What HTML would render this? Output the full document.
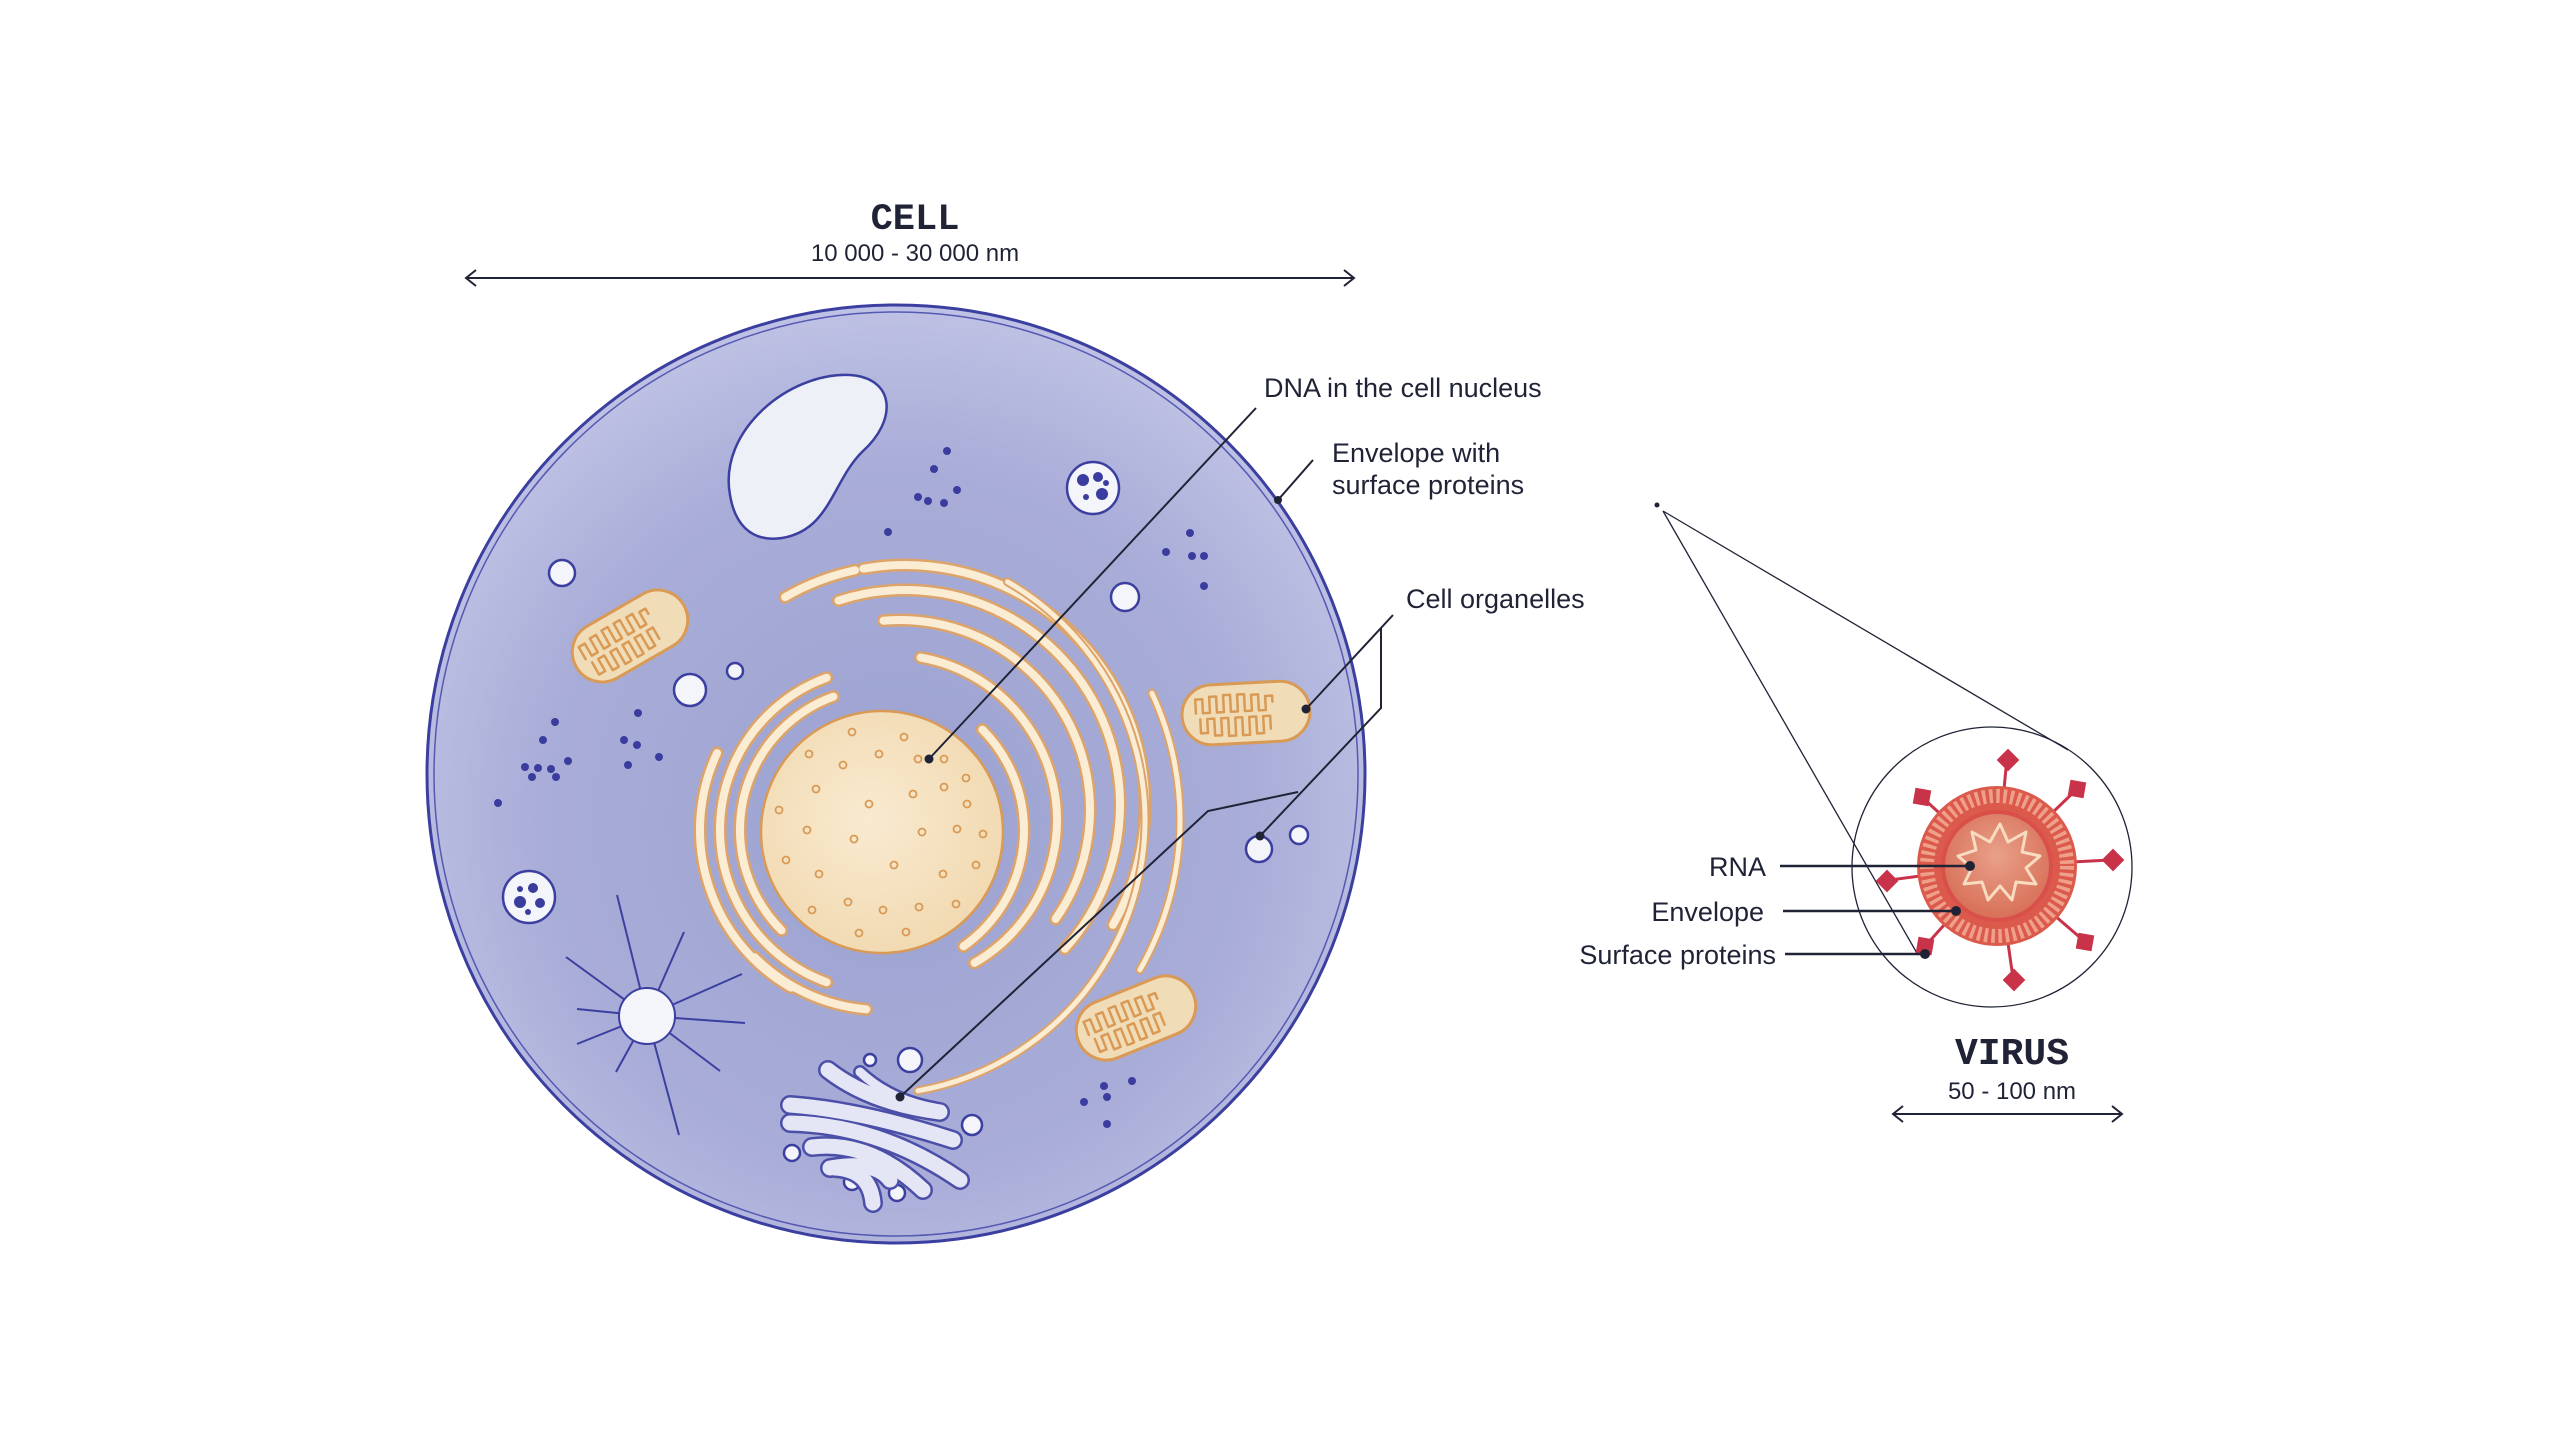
<!DOCTYPE html>
<html><head><meta charset="utf-8"><style>
html,body{margin:0;padding:0;background:#fff;}
svg{display:block;}
text{font-family:"Liberation Sans",sans-serif;fill:#1f2335;}
.mono{font-family:"Liberation Mono",monospace;font-weight:bold;}
</style></head><body>
<svg width="2560" height="1440" viewBox="0 0 2560 1440" xmlns="http://www.w3.org/2000/svg">
<defs>
<radialGradient id="cg" cx="0.5" cy="0.55" r="0.55">
<stop offset="0" stop-color="#9ba1d0"/><stop offset="0.7" stop-color="#a9add8"/><stop offset="1" stop-color="#bfc2e4"/>
</radialGradient>
<radialGradient id="ng" cx="0.45" cy="0.45" r="0.6">
<stop offset="0" stop-color="#f9ead0"/><stop offset="1" stop-color="#f1d9b0"/>
</radialGradient>
<radialGradient id="vg" cx="0.5" cy="0.4" r="0.6">
<stop offset="0" stop-color="#e9a08a"/><stop offset="1" stop-color="#d87058"/>
</radialGradient>
<g id="mz" fill="none" stroke="#d99a55" stroke-width="2.5" stroke-linejoin="round" stroke-linecap="round">
<path d="M-50,-2 v-14 h7 v14 h7 v-16 h7 v16 h7 v-17 h7 v17 h7 v-17 h7 v17 h7 v-16 h7 v16 h7 v-14 h7 v6"/>
<path d="M-46,4 v14 h7 v-14 h7 v17 h7 v-17 h7 v18 h7 v-18 h7 v18 h7 v-18 h7 v17 h7 v-17 h7 v13"/>
</g>
</defs>

<!-- CELL title -->
<text x="915" y="229" class="mono" font-size="37" text-anchor="middle">CELL</text>
<text x="915" y="261" font-size="24" text-anchor="middle">10 000 - 30 000 nm</text>
<g stroke="#1f2335" stroke-width="2" fill="none">
<line x1="466" y1="278" x2="1354" y2="278"/>
<polyline points="476,270 466,278 476,286"/>
<polyline points="1344,270 1354,278 1344,286"/>
</g>

<!-- Cell body -->
<circle cx="896" cy="774" r="469" fill="url(#cg)" stroke="#3b3fa0" stroke-width="3"/>
<circle cx="896" cy="774" r="462" fill="none" stroke="#5559b2" stroke-width="1.5"/>

<!-- vacuole -->
<path d="M730,495 C718,430 790,372 850,375 C895,378 898,420 862,452 C832,482 830,530 782,538 C748,543 734,520 730,495 Z" fill="#eef0f8" stroke="#3b3fa0" stroke-width="2.5"/>

<!-- small vesicles -->
<g fill="#f4f5fb" stroke="#3b3fa0" stroke-width="2.5">
<circle cx="562" cy="573" r="13"/><circle cx="690" cy="690" r="16"/><circle cx="735" cy="671" r="8"/>
<circle cx="1125" cy="597" r="14"/><circle cx="1259" cy="849" r="13"/><circle cx="1299" cy="835" r="9"/>
<circle cx="910" cy="1060" r="12"/><circle cx="870" cy="1060" r="6"/><circle cx="972" cy="1125" r="10"/>
<circle cx="792" cy="1153" r="8"/><circle cx="852" cy="1182" r="8"/><circle cx="897" cy="1193" r="8"/>
</g>

<!-- lysosomes -->
<g>
<circle cx="1093" cy="488" r="26" fill="#f4f5fb" stroke="#3b3fa0" stroke-width="2.5"/>
<g fill="#3a3d9e"><circle cx="1083" cy="480" r="6"/><circle cx="1098" cy="477" r="5"/><circle cx="1102" cy="494" r="6"/><circle cx="1086" cy="497" r="3"/><circle cx="1106" cy="483" r="3"/></g>
<circle cx="529" cy="897" r="26" fill="#f4f5fb" stroke="#3b3fa0" stroke-width="2.5"/>
<g fill="#3a3d9e"><circle cx="520" cy="902" r="6"/><circle cx="533" cy="888" r="5"/><circle cx="540" cy="903" r="5"/><circle cx="528" cy="912" r="3"/><circle cx="520" cy="889" r="3"/></g>
</g>

<!-- dots -->
<g fill="#3a3d9e">
<circle cx="947" cy="451" r="4"/><circle cx="934" cy="469" r="4"/><circle cx="918" cy="497" r="4"/><circle cx="928" cy="501" r="4"/><circle cx="944" cy="503" r="4"/><circle cx="957" cy="490" r="4"/><circle cx="888" cy="532" r="4"/>
<circle cx="1190" cy="533" r="4"/><circle cx="1166" cy="552" r="4"/><circle cx="1192" cy="556" r="4"/><circle cx="1204" cy="556" r="4"/><circle cx="1204" cy="586" r="4"/>
<circle cx="555" cy="722" r="4"/><circle cx="543" cy="740" r="4"/><circle cx="525" cy="767" r="4"/><circle cx="538" cy="768" r="4"/><circle cx="532" cy="777" r="4"/><circle cx="551" cy="769" r="4"/><circle cx="556" cy="777" r="4"/><circle cx="568" cy="761" r="4"/>
<circle cx="638" cy="713" r="4"/><circle cx="624" cy="740" r="4"/><circle cx="637" cy="745" r="4"/><circle cx="628" cy="765" r="4"/><circle cx="659" cy="757" r="4"/>
<circle cx="498" cy="803" r="4"/>
<circle cx="1132" cy="1081" r="4"/><circle cx="1104" cy="1086" r="4"/><circle cx="1107" cy="1097" r="4"/><circle cx="1084" cy="1102" r="4"/><circle cx="1107" cy="1124" r="4"/>
</g>

<!-- centrosome -->
<g stroke="#3b3fa0" stroke-width="2">
<line x1="647" y1="1016" x2="617" y2="895"/><line x1="647" y1="1016" x2="684" y2="932"/><line x1="647" y1="1016" x2="742" y2="974"/><line x1="647" y1="1016" x2="745" y2="1023"/><line x1="647" y1="1016" x2="720" y2="1071"/><line x1="647" y1="1016" x2="679" y2="1135"/><line x1="647" y1="1016" x2="616" y2="1072"/><line x1="647" y1="1016" x2="577" y2="1044"/><line x1="647" y1="1016" x2="577" y2="1009"/><line x1="647" y1="1016" x2="566" y2="957"/>
</g>
<circle cx="647" cy="1016" r="28" fill="#f4f5fb" stroke="#3b3fa0" stroke-width="2"/>

<!-- mitochondria -->
<g transform="translate(630,636) rotate(-30)">
<rect x="-62" y="-30" width="124" height="60" rx="30" fill="#f1dcb8" stroke="#d99a55" stroke-width="3"/>
<use href="#mz"/>
</g>
<g transform="translate(1246,713) rotate(-3)">
<rect x="-64" y="-30" width="128" height="60" rx="30" fill="#f1dcb8" stroke="#d99a55" stroke-width="3"/>
<use href="#mz"/>
</g>
<g transform="translate(1136,1018) rotate(-22)">
<rect x="-62" y="-30" width="124" height="60" rx="30" fill="#f1dcb8" stroke="#d99a55" stroke-width="3"/>
<use href="#mz"/>
</g>

<!-- ER arcs -->
<g fill="none" stroke-linecap="round">
<g stroke="#dca46a" stroke-width="13">
<circle cx="882" cy="830" r="142" pathLength="360" stroke-dasharray="115 1000" transform="rotate(135 882 830)"/>
<circle cx="882" cy="830" r="162" pathLength="360" stroke-dasharray="140 1000" transform="rotate(110 882 830)"/>
<circle cx="882" cy="830" r="182" pathLength="360" stroke-dasharray="85 1000" transform="rotate(120 882 830)"/>
<circle cx="882" cy="830" r="180" pathLength="360" stroke-dasharray="40 1000" transform="rotate(95 882 830)"/>
<circle cx="882" cy="830" r="142" pathLength="360" stroke-dasharray="100 1000" transform="rotate(-45 882 830)"/>
<circle cx="892" cy="820" r="165" pathLength="360" stroke-dasharray="140 1000" transform="rotate(-80 892 820)"/>
<circle cx="900" cy="810" r="190" pathLength="360" stroke-dasharray="130 1000" transform="rotate(-95 900 810)"/>
<circle cx="905" cy="805" r="215" pathLength="360" stroke-dasharray="150 1000" transform="rotate(-108 905 805)"/>
<circle cx="905" cy="805" r="240" pathLength="360" stroke-dasharray="130 1000" transform="rotate(-100 905 805)"/>
<circle cx="905" cy="805" r="240" pathLength="360" stroke-dasharray="18 1000" transform="rotate(-120 905 805)"/>
</g>
<g stroke="#fbecd4" stroke-width="8">
<circle cx="882" cy="830" r="142" pathLength="360" stroke-dasharray="115 1000" transform="rotate(135 882 830)"/>
<circle cx="882" cy="830" r="162" pathLength="360" stroke-dasharray="140 1000" transform="rotate(110 882 830)"/>
<circle cx="882" cy="830" r="182" pathLength="360" stroke-dasharray="85 1000" transform="rotate(120 882 830)"/>
<circle cx="882" cy="830" r="180" pathLength="360" stroke-dasharray="40 1000" transform="rotate(95 882 830)"/>
<circle cx="882" cy="830" r="142" pathLength="360" stroke-dasharray="100 1000" transform="rotate(-45 882 830)"/>
<circle cx="892" cy="820" r="165" pathLength="360" stroke-dasharray="140 1000" transform="rotate(-80 892 820)"/>
<circle cx="900" cy="810" r="190" pathLength="360" stroke-dasharray="130 1000" transform="rotate(-95 900 810)"/>
<circle cx="905" cy="805" r="215" pathLength="360" stroke-dasharray="150 1000" transform="rotate(-108 905 805)"/>
<circle cx="905" cy="805" r="240" pathLength="360" stroke-dasharray="130 1000" transform="rotate(-100 905 805)"/>
<circle cx="905" cy="805" r="240" pathLength="360" stroke-dasharray="18 1000" transform="rotate(-120 905 805)"/>
</g>
<g stroke="#dca46a" stroke-width="9">
<circle cx="870" cy="820" r="275" pathLength="360" stroke-dasharray="140 1000" transform="rotate(-60 870 820)"/>
<circle cx="880" cy="820" r="300" pathLength="360" stroke-dasharray="55 1000" transform="rotate(-25 880 820)"/>
</g>
<g stroke="#fbecd4" stroke-width="5">
<circle cx="870" cy="820" r="275" pathLength="360" stroke-dasharray="140 1000" transform="rotate(-60 870 820)"/>
<circle cx="880" cy="820" r="300" pathLength="360" stroke-dasharray="55 1000" transform="rotate(-25 880 820)"/>
</g>
</g>

<!-- nucleus -->
<circle cx="882" cy="832" r="121" fill="url(#ng)" stroke="#d99a55" stroke-width="2.5"/>
<g fill="none" stroke="#d99a55" stroke-width="1.8">
<circle cx="852" cy="732" r="3.5"/><circle cx="904" cy="737" r="3.5"/><circle cx="809" cy="754" r="3.5"/><circle cx="879" cy="754" r="3.5"/><circle cx="918" cy="759" r="3.5"/><circle cx="944" cy="759" r="3.5"/><circle cx="843" cy="765" r="3.5"/>
<circle cx="966" cy="778" r="3.5"/><circle cx="816" cy="789" r="3.5"/><circle cx="913" cy="794" r="3.5"/><circle cx="944" cy="787" r="3.5"/><circle cx="869" cy="804" r="3.5"/><circle cx="967" cy="804" r="3.5"/>
<circle cx="779" cy="810" r="3.5"/><circle cx="807" cy="830" r="3.5"/><circle cx="854" cy="839" r="3.5"/><circle cx="922" cy="832" r="3.5"/><circle cx="957" cy="829" r="3.5"/><circle cx="983" cy="834" r="3.5"/>
<circle cx="786" cy="860" r="3.5"/><circle cx="819" cy="874" r="3.5"/><circle cx="894" cy="865" r="3.5"/><circle cx="943" cy="874" r="3.5"/><circle cx="976" cy="865" r="3.5"/>
<circle cx="812" cy="910" r="3.5"/><circle cx="848" cy="902" r="3.5"/><circle cx="883" cy="910" r="3.5"/><circle cx="919" cy="907" r="3.5"/><circle cx="956" cy="904" r="3.5"/>
<circle cx="859" cy="933" r="3.5"/><circle cx="906" cy="932" r="3.5"/>
</g>

<!-- golgi -->
<g fill="none" stroke-linecap="round">
<g stroke="#4b4fa8" stroke-width="20">
<path d="M828,1070 Q870,1103 940,1112"/>
<path d="M860,1072 Q890,1100 935,1108" stroke-width="14"/>
<path d="M790,1105 Q860,1110 953,1140"/>
<path d="M790,1123 Q880,1125 960,1180"/>
<path d="M812,1147 Q870,1140 923,1190"/>
<path d="M830,1168 Q875,1160 890,1180"/>
<path d="M835,1168 Q870,1170 873,1203"/>
</g>
<g stroke="#e4e6f5" stroke-width="15">
<path d="M828,1070 Q870,1103 940,1112"/>
<path d="M860,1072 Q890,1100 935,1108" stroke-width="9"/>
<path d="M790,1105 Q860,1110 953,1140"/>
<path d="M790,1123 Q880,1125 960,1180"/>
<path d="M812,1147 Q870,1140 923,1190"/>
<path d="M830,1168 Q875,1160 890,1180"/>
<path d="M835,1168 Q870,1170 873,1203"/>
</g>
</g>

<!-- leader lines cell -->
<g stroke="#1f2335" stroke-width="2" fill="none">
<line x1="1256" y1="408" x2="929" y2="759"/>
<line x1="1313" y1="460" x2="1278" y2="500"/>
<polyline points="1393,615 1306,709"/>
<polyline points="1381,628 1381,708 1260,836"/>
<polyline points="1298,792 1208,811 900,1097"/>
</g>
<g fill="#1f2335">
<circle cx="929" cy="759" r="4.5"/><circle cx="1278" cy="500" r="4"/><circle cx="1306" cy="709" r="4.5"/><circle cx="1260" cy="836" r="4.5"/><circle cx="900" cy="1097" r="4.5"/>
</g>
<text x="1264" y="397" font-size="27">DNA in the cell nucleus</text>
<text x="1332" y="462" font-size="27">Envelope with</text>
<text x="1332" y="494" font-size="27">surface proteins</text>
<text x="1406" y="608" font-size="27">Cell organelles</text>

<!-- zoom cone -->
<circle cx="1657" cy="505" r="2.5" fill="#1f2335"/>
<g stroke="#1f2335" stroke-width="1.3" fill="none">
<line x1="1663" y1="511" x2="2068" y2="750"/>
<line x1="1663" y1="511" x2="1918" y2="955"/>
<circle cx="1992" cy="867" r="140"/>
</g>

<!-- virus -->
<g>
<g stroke="#c9334a" stroke-width="3">
<line x1="1997" y1="866" x2="2007" y2="757"/>
<line x1="1997" y1="866" x2="2077" y2="789"/>
<line x1="1997" y1="866" x2="2110" y2="860"/>
<line x1="1997" y1="866" x2="2083" y2="940"/>
<line x1="1997" y1="866" x2="2013" y2="978"/>
<line x1="1997" y1="866" x2="1927" y2="944"/>
<line x1="1997" y1="866" x2="1890" y2="880"/>
<line x1="1997" y1="866" x2="1924" y2="799"/>
</g>
<g fill="#c9334a">
<rect x="-8" y="-8" width="16" height="16" transform="translate(2008,760) rotate(45)"/>
<rect x="-8" y="-8" width="16" height="16" transform="translate(2077,789) rotate(10)"/>
<rect x="-8" y="-8" width="16" height="16" transform="translate(2113,860) rotate(45)"/>
<rect x="-8" y="-8" width="16" height="16" transform="translate(2085,942) rotate(10)"/>
<rect x="-8" y="-8" width="16" height="16" transform="translate(2014,980) rotate(45)"/>
<rect x="-8" y="-8" width="16" height="16" transform="translate(1925,946) rotate(10)"/>
<rect x="-8" y="-8" width="16" height="16" transform="translate(1887,881) rotate(45)"/>
<rect x="-8" y="-8" width="16" height="16" transform="translate(1922,797) rotate(10)"/>
</g>
<circle cx="1997" cy="866" r="80" fill="#dc5a4c"/>
<circle cx="1997" cy="866" r="70" fill="none" stroke="#eea08a" stroke-width="14" stroke-dasharray="3.5 3.5"/>
<circle cx="1997" cy="866" r="56" fill="#d9504a"/>
<circle cx="1997" cy="866" r="52" fill="url(#vg)"/>
<polygon points="2000,824 2008,842 2026,832 2022,852 2040,856 2026,868 2036,884 2016,882 2012,900 2000,886 1988,900 1982,882 1964,884 1972,868 1958,856 1976,850 1972,832 1990,842" fill="none" stroke="#f8dcc0" stroke-width="3" stroke-linejoin="round"/>
</g>
<g stroke="#1f2335" stroke-width="2.5">
<line x1="1780" y1="866" x2="1970" y2="866"/>
<line x1="1783" y1="911" x2="1956" y2="911"/>
<line x1="1785" y1="954" x2="1925" y2="954"/>
</g>
<g fill="#1f2335"><circle cx="1970" cy="866" r="5"/><circle cx="1956" cy="911" r="5"/><circle cx="1925" cy="954" r="5"/></g>
<text x="1766" y="876" font-size="27" text-anchor="end">RNA</text>
<text x="1764" y="921" font-size="27" text-anchor="end">Envelope</text>
<text x="1776" y="964" font-size="27" text-anchor="end">Surface proteins</text>

<text x="2012" y="1064" class="mono" font-size="38" text-anchor="middle">VIRUS</text>
<text x="2012" y="1099" font-size="24" text-anchor="middle">50 - 100 nm</text>
<g stroke="#1f2335" stroke-width="2" fill="none">
<line x1="1893" y1="1114" x2="2122" y2="1114"/>
<polyline points="1903,1106 1893,1114 1903,1122"/>
<polyline points="2112,1106 2122,1114 2112,1122"/>
</g>
</svg>
</body></html>
